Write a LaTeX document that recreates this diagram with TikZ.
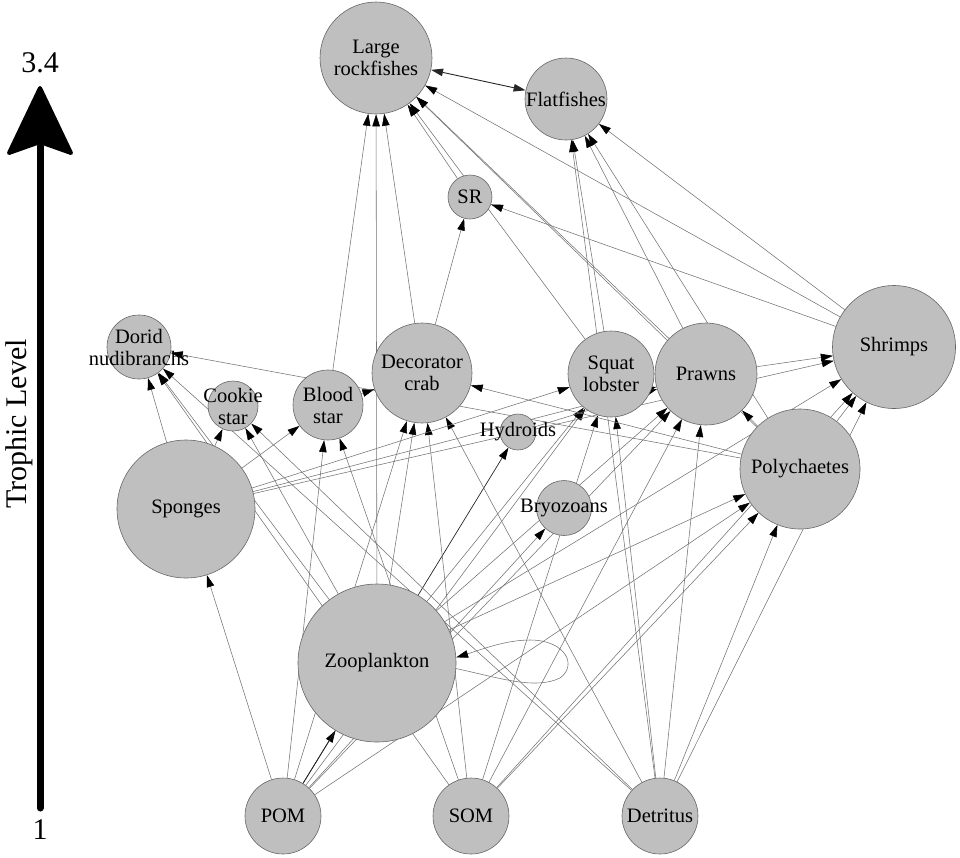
\documentclass[tikz,border=0pt]{standalone}
\usepackage{fontspec}
\setmainfont{Liberation Serif}
\usepackage{tikz}
\usetikzlibrary{arrows.meta}
\usetikzlibrary{backgrounds}

\begin{document}
\begin{tikzpicture}[
		x=1pt, y=-1pt,
		Species/.style={circle, draw=black!60, fill=black!25, line width=0.6pt, inner sep=0pt},
		Names/.style={font=\fontsize{20.5}{22}\selectfont, align=center, text=black},
		Links/.style={draw=black!55, line width=0.55pt, -{Triangle[length=12pt, width=7.5pt, color=black]}},
		DarkLinks/.style={draw=black!85, line width=0.7pt},
		AxisText/.style={font=\fontsize{30}{32}\selectfont}
		]
		
		\useasboundingbox (0,0) rectangle (960,857);
		
		% trophic level axis
		\draw[line width=7pt, line cap=round] (40,808) -- (40,146);
		\filldraw[line width=4pt, line join=round] (40,88) -- (71,153) -- (40,142) -- (9,153) -- cycle;
		\node[AxisText, anchor=base] (top) at (40,72) {3.4};
		\node[AxisText, anchor=base] (bottom) at (40,839) {1};
		\node[AxisText, anchor=base, rotate=90] (axis) at (27,424) {Trophic Level};
		
		% species
		\node[Species, minimum size=112pt, label={[Names]center:Large\\rockfishes}] (LR) at (376,58) {};
		\node[Species, minimum size=82pt, label={[Names]center:Flatfishes}] (FF) at (566,99) {};
		\node[Species, minimum size=44pt, label={[Names]center:SR}] (SR) at (470,197) {};
		\node[Species, minimum size=64pt, label={[Names]center:Dorid\\nudibranchs}] (DN) at (139,347) {};
		\node[Species, minimum size=50pt, label={[Names]center:Cookie\\star}] (CS) at (233,406) {};
		\node[Species, minimum size=70pt, label={[Names]center:Blood\\star}] (BS) at (328,405) {};
		\node[Species, minimum size=100pt, label={[Names]center:Decorator\\crab}] (DC) at (422,373) {};
		\node[Species, minimum size=36pt, label={[Names]center:Hydroids}] (HY) at (518,432) {};
		\node[Species, minimum size=138pt, label={[Names]center:Sponges}] (SP) at (186,509) {};
		\node[Species, minimum size=86pt, label={[Names]center:Squat\\lobster}] (SL) at (611,374) {};
		\node[Species, minimum size=102pt, label={[Names]center:Prawns}] (PR) at (706,374) {};
		\node[Species, minimum size=123pt, label={[Names]center:Shrimps}] (SH) at (894,347) {};
		\node[Species, minimum size=120pt, label={[Names]center:Polychaetes}] (PO) at (800,469) {};
		\node[Species, minimum size=55pt, label={[Names]center:Bryozoans}] (BR) at (564,508) {};
		\node[Species, minimum size=158pt, label={[Names]center:Zooplankton}] (ZO) at (377,663) {};
		\node[Species, minimum size=76pt, label={[Names]center:POM}] (POM) at (283,816) {};
		\node[Species, minimum size=76pt, label={[Names]center:SOM}] (SOM) at (471,816) {};
		\node[Species, minimum size=76pt, label={[Names]center:Detritus}] (DE) at (660,816) {};
		
		% feeding links, prey -> predator
		\begin{pgfonlayer}{background}
		\draw[Links] (POM) edge (SP) edge (BS) edge (DC) edge (BR) edge (SL) edge (PR) edge (PO);
		\draw[Links, DarkLinks] (POM) edge (ZO) edge (HY);
		\draw[Links] (SOM) edge (DN) edge (BS) edge (DC) edge (SL) edge (PR) edge (PO) edge (SH);
		\draw[Links] (DE) edge (DN) edge (CS) edge (DC) edge (SL) edge (FF) edge (PR) edge (PO) edge (SH);
		\draw[Links] (ZO) edge (LR) edge (DN) edge (CS) edge (DC) edge (SL) edge (PR) edge (SH) edge (PO);
		\draw[Links] (SP) edge (DN) edge (CS) edge (BS) edge (SL) edge (PR) edge (SH);
		\draw[Links] (HY) edge (PR);
		\draw[Links] (BS) edge (LR) edge (DC);
		\draw[Links] (DC) edge (LR) edge (SR);
		\draw[Links] (SR) edge (LR);
		\draw[Links] (SL) edge (LR) edge (FF);
		\draw[Links] (PR) edge (LR) edge (FF) edge (SH);
		\draw[Links] (PO) edge (LR) edge (FF) edge (DN) edge (DC) edge (PR) edge (SH);
		\draw[Links] (SH) edge (LR) edge (FF) edge (SR);
		\draw[Links, DarkLinks, line width=0.9pt, {Triangle[length=12pt, width=7.5pt]}-{Triangle[length=12pt, width=7.5pt]}] (LR) -- (FF);
		
		% cannibalism loop
		\draw[Links] (ZO.-4) .. controls (500,678) and (535,690) .. (560,678)
		.. controls (578,665) and (565,640) .. (530,640)
		.. controls (505,640) and (480,650) .. (ZO.4);
		\end{pgfonlayer}
		
	\end{tikzpicture}
\end{document}
